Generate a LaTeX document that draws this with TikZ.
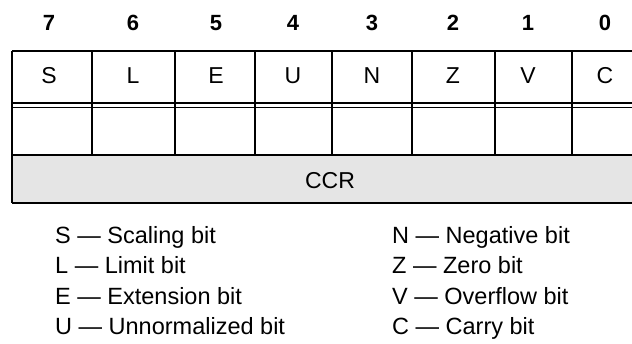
\documentclass[tikz,border=0pt]{standalone}
\usepackage{fontspec}
\setmainfont{Liberation Sans}
\begin{document}
\begin{tikzpicture}[x=1pt,y=-1pt,
  grid/.style={line width=1.9pt,black},
  bitnum/.style={font=\fontsize{22}{26}\selectfont\bfseries,inner sep=0pt,anchor=base},
  bitname/.style={font=\fontsize{23}{27}\selectfont,inner sep=0pt,anchor=base},
  legend/.style={font=\fontsize{23.5}{28}\selectfont,inner sep=0pt,anchor=base west}]
\useasboundingbox (0,0) rectangle (632,343);
% gray CCR row
\fill[gray!20] (12,155) rectangle (632,203);
% horizontal lines
\draw[grid] (12,51) -- (632,51);
\draw[grid] (12,103) -- (632,103);
\draw[grid] (12,107.5) -- (632,107.5);
\draw[grid] (12,155) -- (632,155);
\draw[grid] (12,203) -- (632,203);
% vertical lines
\draw[grid] (12,51) -- (12,203);
\foreach \x in {92,175,255,332,412,495,572}{
  \draw[grid] (\x,51) -- (\x,155);
}
% bit numbers and names
\foreach \x/\n/\l [count=\i] in {49/7/S,133/6/L,216/5/E,293/4/U,372/3/N,453/2/Z,528/1/V,605/0/C}{
  \node[bitnum] (num\i) at (\x,30) {\n};
  \node[bitname] (bit\i) at (\x,83.5) {\l};
}
\node[bitname] (ccr) at (330,188.5) {CCR};
% legend
\node[legend] (ls) at (55,243) {S — Scaling bit};
\node[legend] (ll) at (55,273.5) {L — Limit bit};
\node[legend] (le) at (55,304) {E — Extension bit};
\node[legend] (lu) at (55,334) {U — Unnormalized bit};
\node[legend] (ln) at (392,243) {N — Negative bit};
\node[legend] (lz) at (392,273.5) {Z — Zero bit};
\node[legend] (lv) at (392,304) {V — Overflow bit};
\node[legend] (lc) at (392,334) {C — Carry bit};
\end{tikzpicture}
\end{document}
